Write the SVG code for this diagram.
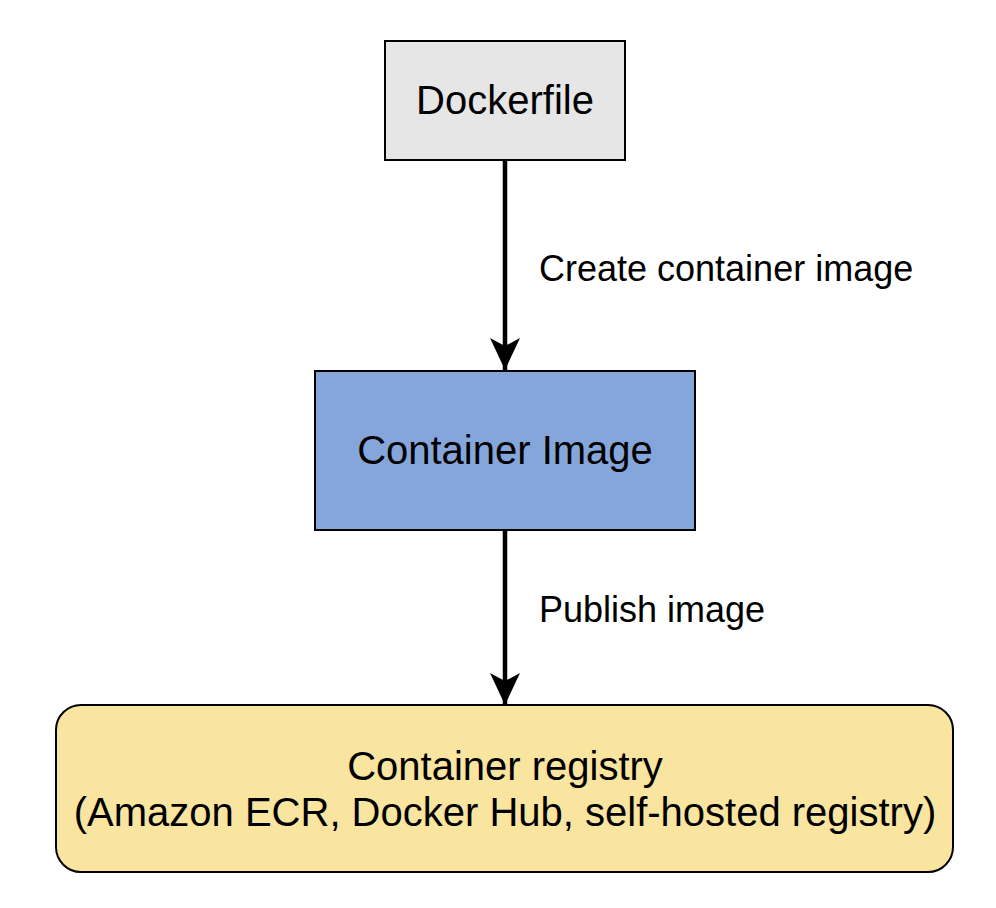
<svg xmlns="http://www.w3.org/2000/svg" width="996" height="908" viewBox="0 0 996 908">
<style>
text{font-family:"Liberation Sans",Arial,Helvetica,sans-serif;fill:#000;text-anchor:middle}
.box{stroke:#000;stroke-width:2}
.edge{stroke:#000;stroke-width:4.5;fill:none}
.lbl{font-size:36px;text-anchor:start}
</style>
<defs>
<marker id="ah" markerUnits="userSpaceOnUse" markerWidth="34" markerHeight="34" viewBox="0 0 34 34" refX="32" refY="17" orient="auto">
<path d="M0,2 L32,17 L0,32 L8,17 Z" fill="#000"/>
</marker>
</defs>
<g id="connectors">
<path class="edge" d="M505,160 V370" marker-end="url(#ah)"/>
<path class="edge" d="M505,530 V705" marker-end="url(#ah)"/>
<text class="lbl" x="539" y="281">Create container image</text>
<text class="lbl" x="539" y="622">Publish image</text>
</g>
<g id="dockerfile">
<rect class="box" x="385" y="41" width="240" height="119" fill="#e6e6e6"/>
<text x="505" y="114" font-size="40">Dockerfile</text>
</g>
<g id="container-image">
<rect class="box" x="315" y="371" width="380" height="159" fill="#85a6db"/>
<text x="505" y="464" font-size="40">Container Image</text>
</g>
<g id="container-registry">
<rect class="box" x="56" y="705" width="897" height="167" rx="25" ry="25" fill="#f9e4a0"/>
<text x="505" y="780" font-size="40">Container registry</text>
<text x="505" y="826" font-size="40">(Amazon ECR, Docker Hub, self-hosted registry)</text>
</g>
</svg>
